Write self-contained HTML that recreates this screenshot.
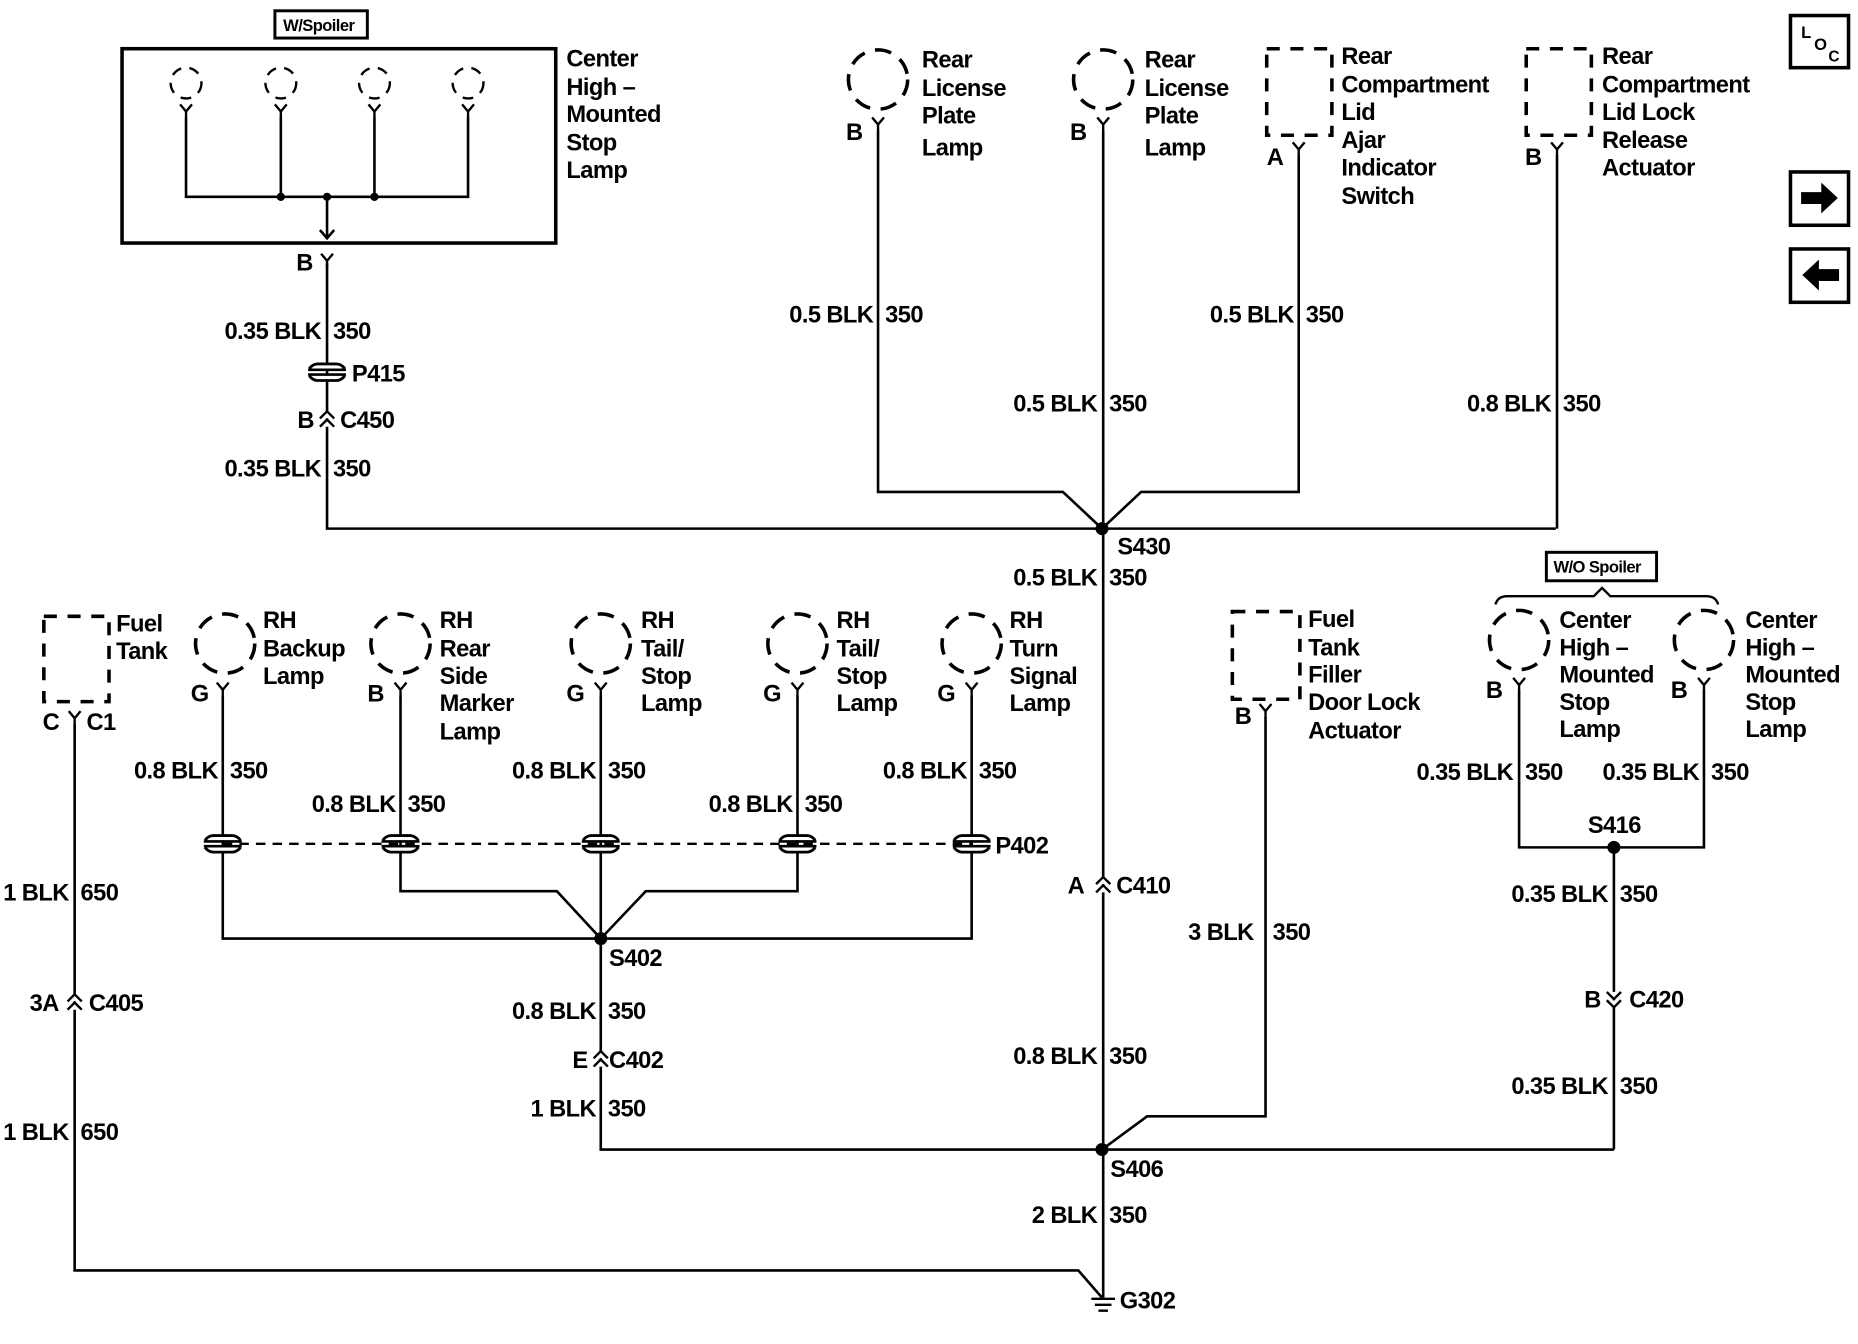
<!DOCTYPE html>
<html><head><meta charset="utf-8"><style>
html,body{margin:0;padding:0;background:#fff}
svg{display:block}
text{font-family:"Liberation Sans",Arial,sans-serif;font-size:20px;font-weight:bold;fill:#000;letter-spacing:-0.5px}
.r{text-anchor:end}
.w{stroke:#000;stroke-width:2.2;fill:none}
</style></head><body>
<svg width="1858" height="1344" viewBox="0 0 1568 1134" xmlns="http://www.w3.org/2000/svg">
<defs>
<g id="Y"><path d="M-5,-8 L0,-2 L5,-8 M0,-2 L0,4" stroke="#000" stroke-width="2" fill="none"/></g>
<g id="lamp"><circle r="25" fill="none" stroke="#000" stroke-width="3" stroke-dasharray="14 9"/></g>
<g id="slamp"><circle r="13" fill="none" stroke="#000" stroke-width="2" stroke-dasharray="9 7"/></g>
<g id="P"><path d="M-15,-3 Q-12,-7 -8,-7 L8,-7 Q12,-7 15,-3 M-15,3 Q-12,7 -8,7 L8,7 Q12,7 15,3" stroke="#000" stroke-width="2.4" fill="#fff"/><path d="M-16,-2 L16,-2 M-16,2 L16,2" stroke="#000" stroke-width="2.2"/></g>
<g id="C"><path d="M-6,-1 L0,-7 L6,-1 M-6,6 L0,0 L6,6" stroke="#000" stroke-width="2" fill="#fff"/></g>
<g id="Cd"><path d="M-6,1 L0,7 L6,1 M-6,-6 L0,0 L6,-6" stroke="#000" stroke-width="2" fill="#fff"/></g>
</defs>

<rect x="232" y="9" width="78" height="23" fill="none" stroke="#000" stroke-width="2.5"/>
<text x="239" y="26" style="font-size:14px">W/Spoiler</text>
<rect x="103" y="41" width="366" height="164" fill="none" stroke="#000" stroke-width="3"/>
<use href="#slamp" x="157" y="70"/><use href="#slamp" x="237" y="70"/><use href="#slamp" x="316" y="70"/><use href="#slamp" x="395" y="70"/>
<use href="#Y" x="157" y="96"/><use href="#Y" x="237" y="96"/><use href="#Y" x="316" y="96"/><use href="#Y" x="395" y="96"/>
<path class="w" d="M157,99 V166 H395 V99 M237,99 V166 M316,99 V166 M276,166 V201 M270,194 L276,201 L282,194"/>
<circle cx="237" cy="166" r="3.5"/><circle cx="276" cy="166" r="3.5"/><circle cx="316" cy="166" r="3.5"/>
<text x="478" y="56">Center</text><text x="478" y="80">High –</text><text x="478" y="103">Mounted</text><text x="478" y="127">Stop</text><text x="478" y="150">Lamp</text>
<use href="#Y" x="276" y="222"/><text x="250" y="228">B</text>
<path class="w" d="M276,222 V446 H1313"/>
<text class="r" x="271" y="286">0.35 BLK</text><text x="281" y="286">350</text>
<use href="#P" x="276" y="314"/><text x="297" y="322">P415</text>
<use href="#C" x="276" y="354"/><text x="251" y="361">B</text><text x="287" y="361">C450</text>
<text class="r" x="271" y="402">0.35 BLK</text><text x="281" y="402">350</text>

<use href="#lamp" x="741" y="67"/><use href="#Y" x="741" y="107"/><text x="714" y="118">B</text>
<text x="778" y="57">Rear</text><text x="778" y="81">License</text><text x="778" y="104">Plate</text><text x="778" y="131">Lamp</text>
<use href="#lamp" x="931" y="67"/><use href="#Y" x="931" y="107"/><text x="903" y="118">B</text>
<text x="966" y="57">Rear</text><text x="966" y="81">License</text><text x="966" y="104">Plate</text><text x="966" y="131">Lamp</text>
<rect x="1069" y="41" width="55" height="73" fill="none" stroke="#000" stroke-width="3" stroke-dasharray="11 9"/>
<use href="#Y" x="1096" y="128"/><text x="1069" y="139">A</text>
<text x="1132" y="54">Rear</text><text x="1132" y="78">Compartment</text><text x="1132" y="101">Lid</text><text x="1132" y="125">Ajar</text><text x="1132" y="148">Indicator</text><text x="1132" y="172">Switch</text>
<rect x="1288" y="41" width="55" height="73" fill="none" stroke="#000" stroke-width="3" stroke-dasharray="11 9"/>
<use href="#Y" x="1314" y="128"/><text x="1287" y="139">B</text>
<text x="1352" y="54">Rear</text><text x="1352" y="78">Compartment</text><text x="1352" y="101">Lid Lock</text><text x="1352" y="125">Release</text><text x="1352" y="148">Actuator</text>
<path class="w" d="M741,110 V415 H897 L930,446 M931,110 V1095 M1096,131 V415 H963 L930,446 M1314,131 V446"/>
<text class="r" x="737" y="272">0.5 BLK</text><text x="747" y="272">350</text>
<text class="r" x="926" y="347">0.5 BLK</text><text x="936" y="347">350</text>
<text class="r" x="1092" y="272">0.5 BLK</text><text x="1102" y="272">350</text>
<text class="r" x="1309" y="347">0.8 BLK</text><text x="1319" y="347">350</text>
<circle cx="930" cy="446" r="5.5"/><text x="943" y="468">S430</text>
<text class="r" x="926" y="494">0.5 BLK</text><text x="936" y="494">350</text>
<use href="#C" x="931" y="747"/><text x="901" y="754">A</text><text x="942" y="754">C410</text>
<text class="r" x="926" y="898">0.8 BLK</text><text x="936" y="898">350</text>
<circle cx="930" cy="970" r="5.5"/><text x="937" y="993">S406</text>
<text class="r" x="926" y="1032">2 BLK</text><text x="936" y="1032">350</text>
<path d="M921,1096 H941 M924,1101 H938 M927,1106 H935" stroke="#000" stroke-width="2"/>
<text x="945" y="1104">G302</text>

<rect x="37" y="520" width="55" height="72" fill="none" stroke="#000" stroke-width="3" stroke-dasharray="11 9"/>
<text x="98" y="533">Fuel</text><text x="98" y="556">Tank</text>
<use href="#Y" x="63" y="608"/><text x="36" y="616">C</text><text x="73" y="616">C1</text>
<path class="w" d="M63,611 V1072 H910 L930,1095"/>
<text class="r" x="58" y="760">1 BLK</text><text x="68" y="760">650</text>
<use href="#C" x="63" y="846"/><text x="25" y="853">3A</text><text x="75" y="853">C405</text>
<text class="r" x="58" y="962">1 BLK</text><text x="68" y="962">650</text>

<use href="#lamp" x="190" y="543"/><use href="#Y" x="188" y="584"/><text x="161" y="592">G</text>
<text x="222" y="530">RH</text><text x="222" y="554">Backup</text><text x="222" y="577">Lamp</text>
<use href="#lamp" x="338" y="543"/><use href="#Y" x="338" y="584"/><text x="310" y="592">B</text>
<text x="371" y="530">RH</text><text x="371" y="554">Rear</text><text x="371" y="577">Side</text><text x="371" y="600">Marker</text><text x="371" y="624">Lamp</text>
<use href="#lamp" x="507" y="543"/><use href="#Y" x="507" y="584"/><text x="478" y="592">G</text>
<text x="541" y="530">RH</text><text x="541" y="554">Tail/</text><text x="541" y="577">Stop</text><text x="541" y="600">Lamp</text>
<use href="#lamp" x="673" y="543"/><use href="#Y" x="673" y="584"/><text x="644" y="592">G</text>
<text x="706" y="530">RH</text><text x="706" y="554">Tail/</text><text x="706" y="577">Stop</text><text x="706" y="600">Lamp</text>
<use href="#lamp" x="820" y="543"/><use href="#Y" x="820" y="584"/><text x="791" y="592">G</text>
<text x="852" y="530">RH</text><text x="852" y="554">Turn</text><text x="852" y="577">Signal</text><text x="852" y="600">Lamp</text>
<path d="M188,712 H820" stroke="#000" stroke-width="2" stroke-dasharray="8 6"/>
<path class="w" d="M188,587 V792 H820 V587 M338,587 V752 H470 L507,792 M673,587 V752 H545 L507,792 M507,587 V970 H1362"/>
<use href="#P" x="188" y="712"/><use href="#P" x="338" y="712"/><use href="#P" x="507" y="712"/><use href="#P" x="673" y="712"/><use href="#P" x="820" y="712"/>
<text x="840" y="720">P402</text>
<text class="r" x="184" y="657">0.8 BLK</text><text x="194" y="657">350</text>
<text class="r" x="334" y="685">0.8 BLK</text><text x="344" y="685">350</text>
<text class="r" x="503" y="657">0.8 BLK</text><text x="513" y="657">350</text>
<text class="r" x="669" y="685">0.8 BLK</text><text x="679" y="685">350</text>
<text class="r" x="816" y="657">0.8 BLK</text><text x="826" y="657">350</text>
<circle cx="507" cy="792" r="5.5"/><text x="514" y="815">S402</text>
<text class="r" x="503" y="860">0.8 BLK</text><text x="513" y="860">350</text>
<use href="#C" x="507" y="894"/><text x="483" y="901">E</text><text x="514" y="901">C402</text>
<text class="r" x="503" y="942">1 BLK</text><text x="513" y="942">350</text>

<rect x="1040" y="516" width="57" height="74" fill="none" stroke="#000" stroke-width="3" stroke-dasharray="11 9"/>
<use href="#Y" x="1068" y="602"/><text x="1042" y="611">B</text>
<text x="1104" y="529">Fuel</text><text x="1104" y="553">Tank</text><text x="1104" y="576">Filler</text><text x="1104" y="599">Door Lock</text><text x="1104" y="623">Actuator</text>
<path class="w" d="M1068,605 V942 H968 L930,970"/>
<text class="r" x="1058" y="793">3 BLK</text><text x="1074" y="793">350</text>

<rect x="1305" y="466" width="93" height="24" fill="none" stroke="#000" stroke-width="2.5"/>
<text x="1311" y="483" style="font-size:14px">W/O Spoiler</text>
<path d="M1262,510 Q1264,503 1272,503 H1345 L1352,496 L1359,503 H1440 Q1448,503 1450,510" stroke="#000" stroke-width="2" fill="none"/>
<use href="#lamp" x="1282" y="540"/><use href="#Y" x="1282" y="580"/><text x="1254" y="589">B</text>
<text x="1316" y="530">Center</text><text x="1316" y="553">High –</text><text x="1316" y="576">Mounted</text><text x="1316" y="599">Stop</text><text x="1316" y="622">Lamp</text>
<use href="#lamp" x="1438" y="540"/><use href="#Y" x="1438" y="580"/><text x="1410" y="589">B</text>
<text x="1473" y="530">Center</text><text x="1473" y="553">High –</text><text x="1473" y="576">Mounted</text><text x="1473" y="599">Stop</text><text x="1473" y="622">Lamp</text>
<path class="w" d="M1282,583 V715 H1438 V583 M1362,715 V970"/>
<circle cx="1362" cy="715" r="5.5"/><text x="1340" y="703">S416</text>
<text class="r" x="1277" y="658">0.35 BLK</text><text x="1287" y="658">350</text>
<text class="r" x="1434" y="658">0.35 BLK</text><text x="1444" y="658">350</text>
<text class="r" x="1357" y="761">0.35 BLK</text><text x="1367" y="761">350</text>
<use href="#Cd" x="1362" y="843"/><text x="1337" y="850">B</text><text x="1375" y="850">C420</text>
<text class="r" x="1357" y="923">0.35 BLK</text><text x="1367" y="923">350</text>

<rect x="1511" y="13" width="49" height="44" fill="none" stroke="#000" stroke-width="3"/>
<text x="1520" y="32" style="font-size:14px">L</text><text x="1531" y="42" style="font-size:14px">O</text><text x="1543" y="52" style="font-size:13px">C</text>
<rect x="1511" y="145" width="49" height="45" fill="none" stroke="#000" stroke-width="3"/>
<path d="M1520,162 H1537 V154 L1551,167 L1537,180 V172 H1520 Z" fill="#000"/>
<rect x="1511" y="210" width="49" height="45" fill="none" stroke="#000" stroke-width="3"/>
<path d="M1552,227 H1535 V219 L1521,232 L1535,245 V237 H1552 Z" fill="#000"/>
</svg>
</body></html>
